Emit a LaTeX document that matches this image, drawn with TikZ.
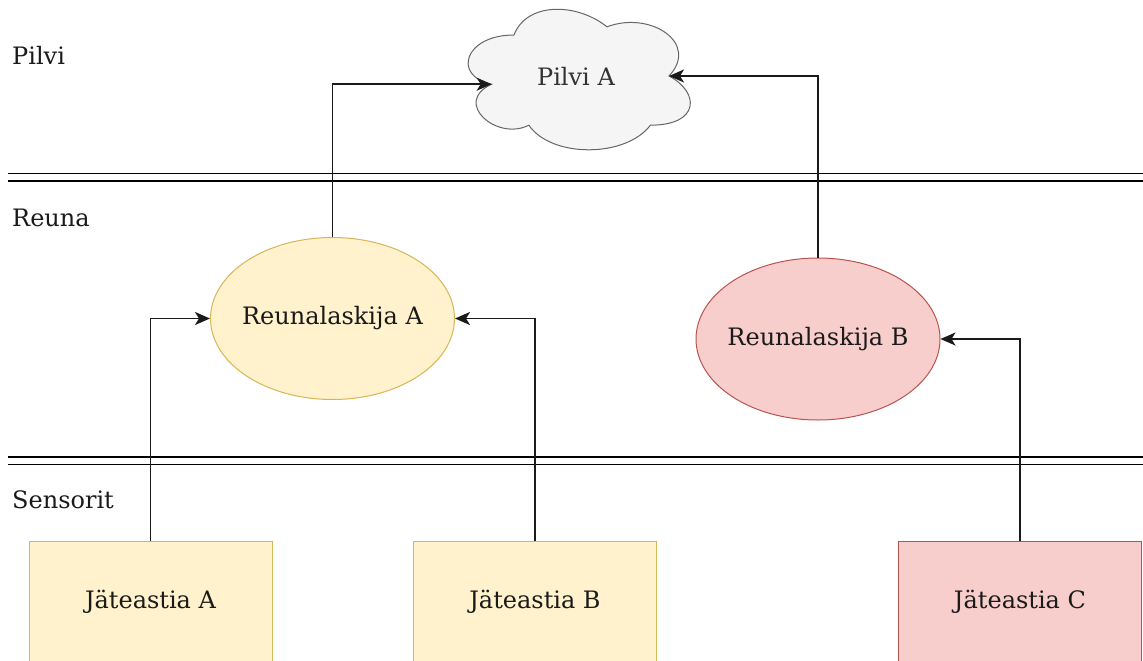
\documentclass[tikz,border=0pt]{standalone}
\usepackage{fontspec}
\setmainfont{DejaVu Serif}
\usetikzlibrary{arrows.meta,shapes.geometric}
\definecolor{yfill}{HTML}{FFF2CC}
\definecolor{ydraw}{HTML}{D6B656}
\definecolor{rfill}{HTML}{F8CECC}
\definecolor{rdraw}{HTML}{B85450}
\definecolor{cfill}{HTML}{F5F5F5}
\definecolor{cdraw}{HTML}{666666}
\definecolor{ctext}{HTML}{333333}
\definecolor{ink}{HTML}{1A1A1A}
\begin{document}
\begin{tikzpicture}[x=1pt,y=-1pt,
  every node/.style={font=\fontsize{24}{28}\selectfont, text=ink},
  tier/.style={anchor=west, inner sep=0pt},
  sep/.style={line width=1.5pt, black},
  bin/.style={rectangle, draw, line width=1pt, minimum width=243pt, minimum height=122pt, inner sep=0pt},
  edgebox/.style={ellipse, draw, line width=1pt, minimum width=244pt, minimum height=162pt, inner sep=0pt},
  link/.style={line width=1.7pt, ink, -{Stealth[length=15pt,width=13pt,inset=4pt]}},
]
\useasboundingbox (0,0) rectangle (1143,661);

% tier separators
\draw[sep] (8,173.5) -- (1143,173.5);
\draw[sep] (8,181) -- (1143,181);
\draw[sep] (8,457) -- (1143,457);
\draw[sep] (8,464.5) -- (1143,464.5);

% tier labels
\node[tier] (lblcloud) at (12,55) {Pilvi};
\node[tier] (lbledge) at (12,218) {Reuna};
\node[tier] (lblsens) at (12,500) {Sensorit};

% cloud
\begin{scope}[shift={(452,-6)}, x=248pt, y=-164pt]
  \draw[fill=cfill, draw=cdraw, line width=1pt]
    (0.25,0.25) .. controls (0.05,0.25) and (0,0.5) .. (0.16,0.55)
    .. controls (0,0.66) and (0.18,0.9) .. (0.31,0.8)
    .. controls (0.4,1) and (0.7,1) .. (0.8,0.8)
    .. controls (1,0.8) and (1,0.6) .. (0.875,0.5)
    .. controls (1,0.3) and (0.8,0.1) .. (0.625,0.2)
    .. controls (0.5,0.05) and (0.3,0.05) .. (0.25,0.25) -- cycle;
  \coordinate (cloudW) at (0.16,0.55);
  \coordinate (cloudE) at (0.875,0.5);
  \node[text=ctext] (pa) at (0.5,0.5) {Pilvi A};
\end{scope}

% edge nodes (text set as a centred label so the ellipse keeps its size)
\node[edgebox, fill=yfill, draw=ydraw, label=center:Reunalaskija A] (ra) at (332.5,318.5) {};
\node[edgebox, fill=rfill, draw=rdraw, label=center:Reunalaskija B] (rb) at (818,339) {};

% sensor bins
\node[bin, fill=yfill, draw=ydraw] (ja) at (150.5,602) {Jäteastia A};
\node[bin, fill=yfill, draw=ydraw] (jb) at (535,602) {Jäteastia B};
\node[bin, fill=rfill, draw=rdraw] (jc) at (1020,602) {Jäteastia C};

% connections
\draw[link] (ra.north) |- (cloudW);
\draw[link] (rb.north) |- (cloudE);
\draw[link] (ja.north) |- (ra.west);
\draw[link] (jb.north) |- (ra.east);
\draw[link] (jc.north) |- (rb.east);
\end{tikzpicture}
\end{document}
